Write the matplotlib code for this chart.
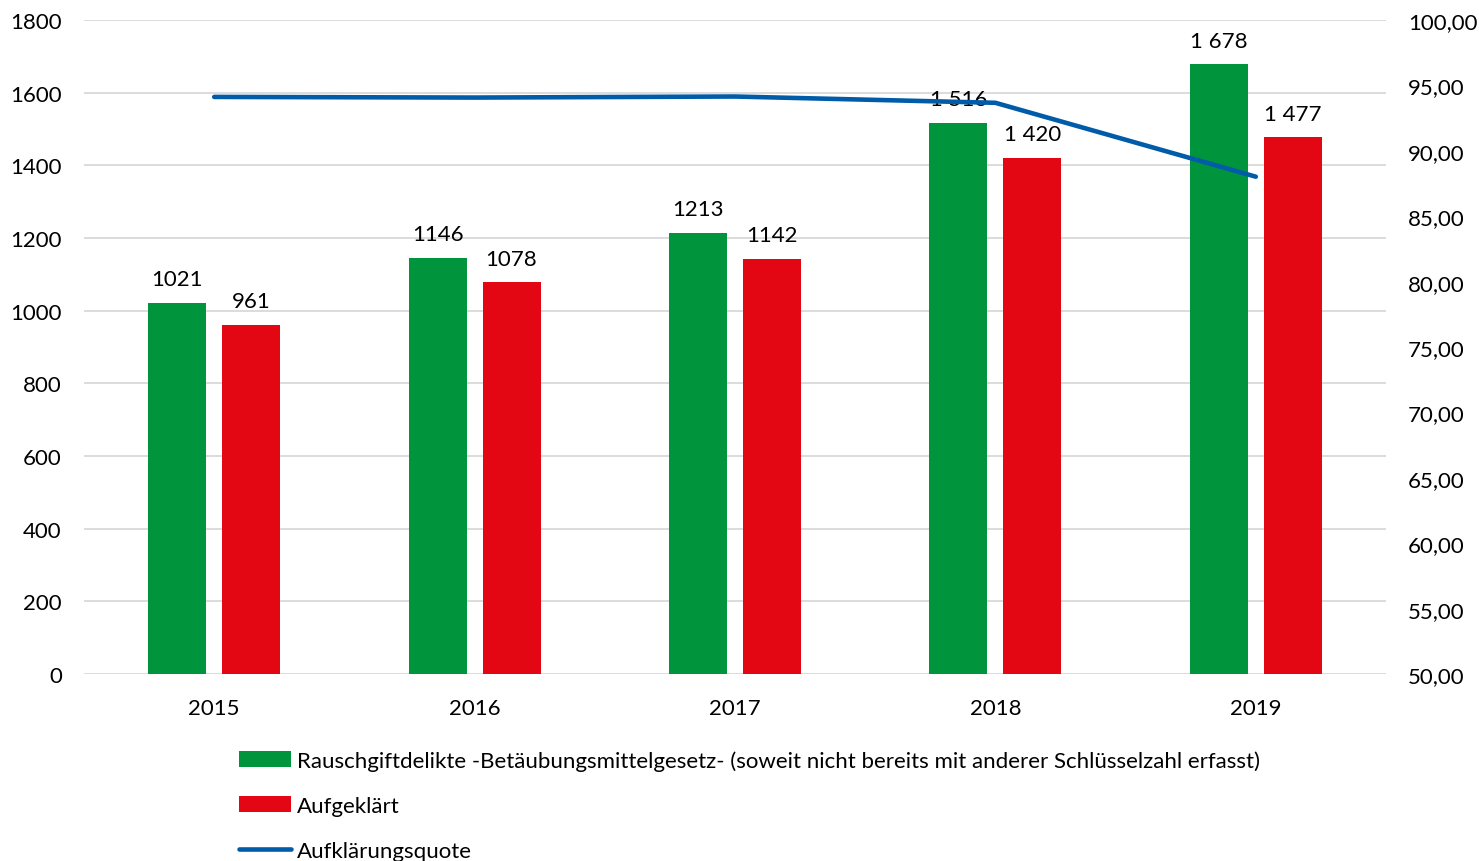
"""Rauschgiftdelikte 2015-2019: Fälle, aufgeklärte Fälle und Aufklärungsquote."""

import matplotlib
import matplotlib.pyplot as plt
import matplotlib.ticker as mticker
from matplotlib.lines import Line2D
from matplotlib.patches import Patch

matplotlib.use("Agg")

plt.rcParams["font.family"] = ["Lato", "DejaVu Sans"]

# ── Daten ──────────────────────────────────────────
YEARS = ["2015", "2016", "2017", "2018", "2019"]
FAELLE = [1021, 1146, 1213, 1516, 1678]
AUFGEKLAERT = [961, 1078, 1142, 1420, 1477]
QUOTE = [94.12, 94.07, 94.15, 93.67, 88.02]
FAELLE_LABELS = ["1021", "1146", "1213", "1 516", "1 678"]
AUFGEKLAERT_LABELS = ["961", "1078", "1142", "1 420", "1 477"]

NAMES = [
    "Rauschgiftdelikte -Betäubungsmittelgesetz- (soweit nicht bereits mit anderer Schlüsselzahl erfasst)",
    "Aufgeklärt",
    "Aufklärungsquote",
]
GREEN = "#00943C"
RED = "#E30613"
BLUE = "#005CA9"
GRID = "#D9D9D9"
FS = 16


def main() -> None:
    fig = plt.figure(figsize=(14.79, 8.62), dpi=100)
    ax = fig.add_axes([84 / 1479, 1 - 675 / 862, 1302 / 1479, 654 / 862])
    ax2 = ax.twinx()

    x = list(range(len(YEARS)))
    w = 0.223
    off = 0.142
    ax.bar([i - off for i in x], FAELLE, w, color=GREEN, zorder=2)
    ax.bar([i + off for i in x], AUFGEKLAERT, w, color=RED, zorder=2)
    for i in x:
        ax.text(i - off, FAELLE[i] + 38, FAELLE_LABELS[i], ha="center", va="bottom",
                fontsize=FS, zorder=3)
        ax.text(i + off, AUFGEKLAERT[i] + 38, AUFGEKLAERT_LABELS[i], ha="center",
                va="bottom", fontsize=FS, zorder=3)

    ax.set_xlim(-0.5, len(YEARS) - 0.5)
    ax.set_ylim(0, 1800)
    ax.set_yticks(range(0, 1801, 200))
    ax.set_xticks(x)
    ax.set_xticklabels(YEARS)
    ax.grid(axis="y", color=GRID, linewidth=1.3, zorder=0)
    ax.set_axisbelow(True)
    for s in ax.spines.values():
        s.set_visible(False)
    ax.tick_params(axis="both", length=0, labelsize=FS)
    ax.tick_params(axis="y", pad=16)
    ax.tick_params(axis="x", pad=17)

    ax2.plot(x, QUOTE, color=BLUE, linewidth=3.3, solid_capstyle="round", zorder=4)
    ax2.set_ylim(50, 100)
    ax2.set_yticks(range(50, 101, 5))
    ax2.yaxis.set_major_formatter(
        mticker.FuncFormatter(lambda v, _: f"{v:.2f}".replace(".", ",")))
    for s in ax2.spines.values():
        s.set_visible(False)
    ax2.tick_params(axis="y", length=0, labelsize=FS, pad=16)

    handles = [
        Patch(facecolor=GREEN),
        Patch(facecolor=RED),
        Line2D([0], [0], color=BLUE, linewidth=3.3, solid_capstyle="round"),
    ]
    fig.legend(handles, NAMES, loc="upper left",
               bbox_to_anchor=(239 / 1479, 1 - 751 / 862), frameon=False,
               fontsize=FS, handlelength=2.35, handletextpad=0.25, labelspacing=1.13,
               borderaxespad=0, borderpad=0)

    fig.savefig("out.png", dpi=100)
    plt.close(fig)


if __name__ == "__main__":
    main()
